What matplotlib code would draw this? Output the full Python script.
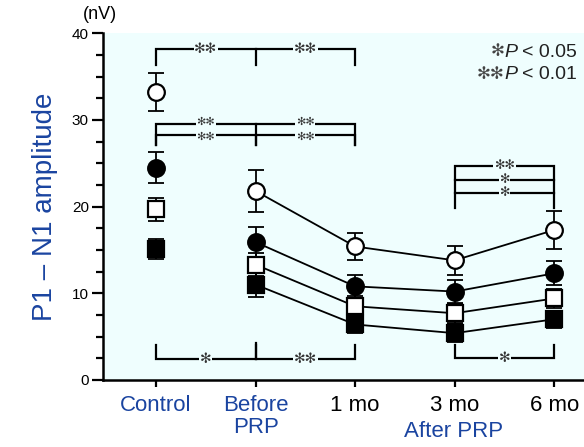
import numpy as np
import matplotlib
matplotlib.use("Agg")
import matplotlib.pyplot as plt
from matplotlib.ticker import MultipleLocator
from matplotlib.transforms import offset_copy

plt.rcParams['font.family'] = ['Liberation Sans', 'DejaVu Sans']

# data
groups = ['Control', 'Before\nPRP', '1 mo', '3 mo', '6 mo']
x = np.arange(len(groups))

open_circle = [33.2, 21.8, 15.4, 13.8, 17.3]
open_circle_err = [2.2, 2.4, 1.6, 1.7, 2.2]
filled_circle = [24.5, 15.9, 10.8, 10.2, 12.3]
filled_circle_err = [1.8, 1.7, 1.35, 1.3, 1.4]
open_square = [19.7, 13.3, 8.5, 7.7, 9.4]
open_square_err = [1.35, 1.3, 1.2, 1.1, 1.1]
filled_square = [15.1, 11.0, 6.4, 5.4, 7.0]
filled_square_err = [1.2, 1.4, 1.0, 1.0, 1.0]

blue = '#1a44a0'
bg = '#effefe'
star = '\u273b'

fig = plt.figure(figsize=(5.84, 4.47), dpi=100)
ax = fig.add_axes([0.176, 0.150, 0.824, 0.7755])
ax.set_facecolor(bg)

series = [
    (open_circle, open_circle_err, 'o', 'white'),
    (filled_circle, filled_circle_err, 'o', 'black'),
    (open_square, open_square_err, 's', 'white'),
    (filled_square, filled_square_err, 's', 'black'),
]
for vals, err, m, fc in series:
    ax.plot(x[1:], vals[1:], color='black', lw=1.3, zorder=2)
    ax.errorbar(x, vals, yerr=err, fmt='none', ecolor='black', elinewidth=1.3,
                capsize=5.5, capthick=1.3, zorder=3)
    ax.plot(x, vals, ls='none', marker=m, markersize=12 if m == 'o' else 11,
            markerfacecolor=fc, markeredgecolor='black', markeredgewidth=1.6, zorder=4)


def bracket(x0, x1, y, drop, mids=(), lw=1.6):
    ax.plot([x0, x0, x1, x1], [y + drop, y, y, y + drop], color='black', lw=lw,
            solid_joinstyle='miter', zorder=2)
    for xm in mids:
        ax.plot([xm, xm], [y, y + drop], color='black', lw=lw, zorder=2)


def stars(xc, y, s, fs=10):
    ax.text(xc, y, s, ha='center', va='center', fontsize=fs, color='#333333',
            family='DejaVu Sans',
            bbox=dict(boxstyle='square,pad=0.05', fc=bg, ec='none'), zorder=5)


# top brackets
bracket(0, 2, 38.2, -1.9, mids=[1])
stars(0.5, 38.2, star * 2)
stars(1.5, 38.2, star * 2)
bracket(0, 2, 29.5, -2.4, mids=[1])
bracket(0, 2, 28.3, -1.2, mids=[1])
for yy in (29.75, 28.1):
    stars(0.5, yy, star * 2, fs=8)
    stars(1.5, yy, star * 2, fs=8)

# 3 mo vs 6 mo brackets
bracket(3, 4, 24.7, -4.9)
ax.plot([3, 4], [23.1, 23.1], color='black', lw=1.6, zorder=2)
ax.plot([3, 4], [21.6, 21.6], color='black', lw=1.6, zorder=2)
stars(3.5, 24.7, star * 2, fs=9)
stars(3.5, 23.1, star, fs=9)
stars(3.5, 21.6, star, fs=9)

# bottom brackets
bracket(0, 2, 2.4, 1.6, mids=[1])
ax.plot([1, 1], [2.4, 4.3], color='black', lw=1.6, zorder=2)
stars(0.5, 2.4, star)
stars(1.5, 2.4, star * 2)
bracket(3, 4, 2.5, 1.5)
stars(3.5, 2.5, star)

# significance key, pieced together so the star glyph and italic P both render
fig.canvas.draw()
renderer = fig.canvas.get_renderer()
for ypos, nstar, txt in [(0.97, 1, '< 0.05'), (0.905, 2, '< 0.01')]:
    t1 = ax.text(0.985, ypos, txt, transform=ax.transAxes, ha='right',
                 va='top', fontsize=14, color='#222222')
    w1 = t1.get_window_extent(renderer).width * 72 / fig.dpi
    tr = offset_copy(ax.transAxes, fig=fig, x=-w1 - 3, y=0, units='points')
    t2 = ax.text(0.985, ypos, 'P', transform=tr, ha='right', va='top',
                 fontsize=14, style='italic', color='#222222')
    w2 = t2.get_window_extent(renderer).width * 72 / fig.dpi
    tr2 = offset_copy(ax.transAxes, fig=fig, x=-w1 - w2 - 3, y=1, units='points')
    ax.text(0.985, ypos, star * nstar, transform=tr2, ha='right', va='top',
            fontsize=12, family='DejaVu Sans', color='#444444')

ax.set_xlim(-0.536, 4.30)
ax.set_ylim(0, 40)
ax.yaxis.set_major_locator(MultipleLocator(10))
ax.yaxis.set_minor_locator(MultipleLocator(2.5))
ax.set_xticks(x)
ax.set_xticklabels(groups, fontsize=16, linespacing=1.05)
for lab, c in zip(ax.get_xticklabels(), [blue, blue, 'black', 'black', 'black']):
    lab.set_color(c)
ax.tick_params(axis='y', which='major', direction='out', length=8, width=1.6,
               labelsize=11, pad=2)
ax.tick_params(axis='y', which='minor', direction='out', length=5, width=1.6)
ax.tick_params(axis='x', direction='out', length=5, width=1.6, pad=6)

for s in ['top', 'right']:
    ax.spines[s].set_visible(False)
for s in ['left', 'bottom']:
    ax.spines[s].set_linewidth(1.8)

ax.set_ylabel('P1 \u2013 N1 amplitude', fontsize=20, color=blue, labelpad=10)
ax.text(-0.006, 1.055, '(nV)', transform=ax.transAxes, ha='center', va='center',
        fontsize=13)
fig.text(454 / 584, 0.034, 'After PRP', ha='center', va='center', fontsize=16,
         color=blue)

fig.savefig('out.png', dpi=100)
